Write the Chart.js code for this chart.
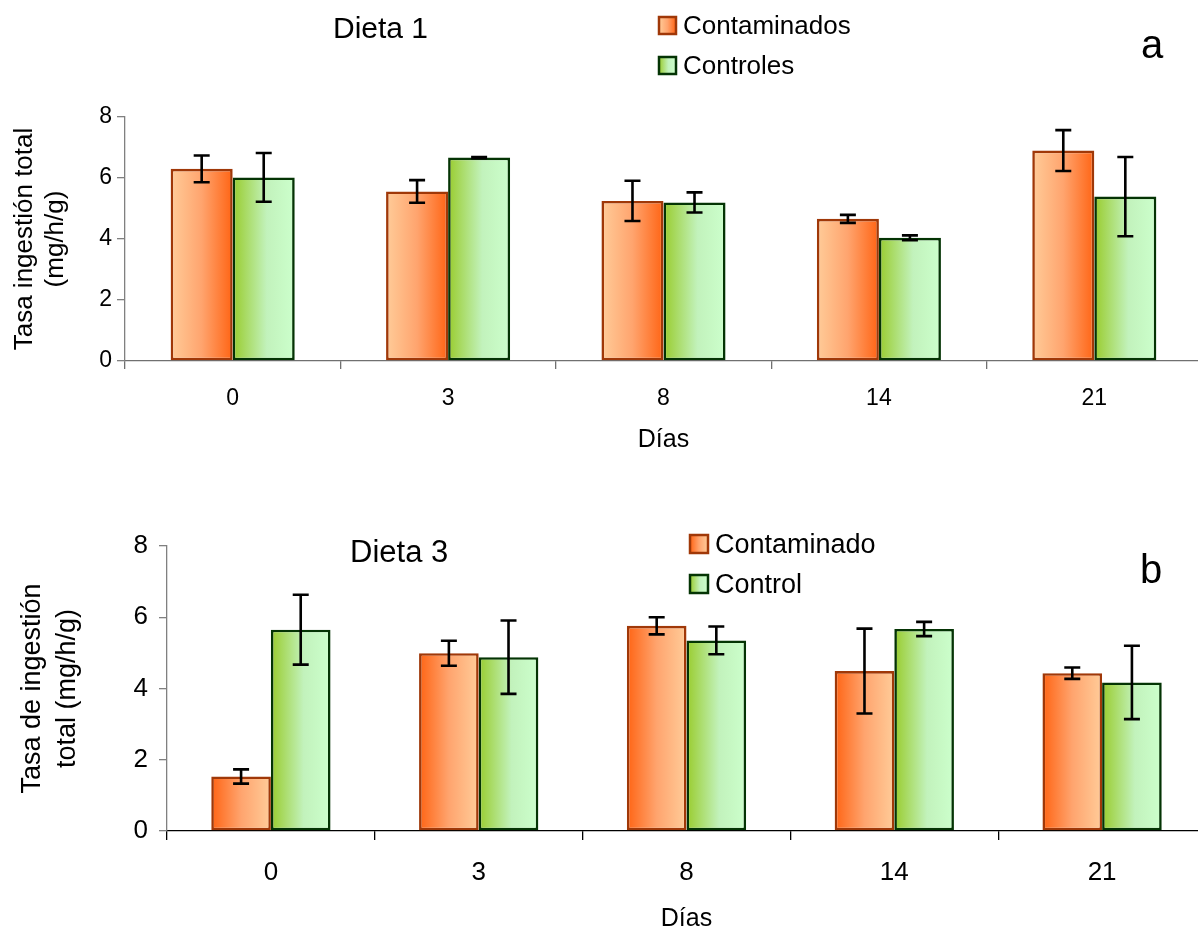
<!DOCTYPE html>
<html><head><meta charset="utf-8">
<script src="https://cdn.jsdelivr.net/npm/chart.js@4.4.0/dist/chart.umd.min.js"></script>
<style>
html,body{margin:0;padding:0;background:#fff;overflow:hidden;width:1198px;height:930px}
canvas{position:absolute;left:0}
#c1{top:0}#c2{top:465px}
</style></head><body>
<canvas id="c1" width="1210" height="465"></canvas>
<canvas id="c2" width="1210" height="480"></canvas>
<script>
// ---- data ----
const days = ['0', '3', '8', '14', '21'];
const yTickStep = 2;
const yMin = 0, yMax = 8;

// Dieta 1
const d1Contaminados = [6.30, 5.56, 5.25, 4.66, 6.90];
const d1ContaminadosErr = [0.44, 0.37, 0.66, 0.13, 0.67];
const d1Controles = [6.02, 6.67, 5.20, 4.04, 5.39];
const d1ControlesErr = [0.80, 0.02, 0.33, 0.08, 1.30];

// Dieta 3
const d3Contaminado = [1.53, 4.99, 5.76, 4.49, 4.43];
const d3ContaminadoErr = [0.20, 0.35, 0.24, 1.19, 0.16];
const d3Control = [5.65, 4.88, 5.35, 5.67, 4.17];
const d3ControlErr = [0.98, 1.03, 0.39, 0.20, 1.03];

// ---- styles ----
const FONT = "'Liberation Sans', Arial, sans-serif";
const ORANGE_LR = [[0, '#FFCC99'], [0.5, '#FFA46E'], [1, '#FF6414']];
const ORANGE_RL = [[0, '#FF6414'], [0.5, '#FFA46E'], [1, '#FFCC99']];
const GREEN = [[0, '#99CC2E'], [0.55, '#C2F2BC'], [1, '#CCFFCC']];
const ORANGE_BORDER = '#A03808';
const GREEN_BORDER = '#043404';

function makeGrad(ctx, x0, x1, stops) {
  const g = ctx.createLinearGradient(x0, 0, x1, 0);
  stops.forEach(s => g.addColorStop(s[0], s[1]));
  return g;
}

const gradientPlugin = {
  id: 'gradBars',
  beforeDatasetsDraw(chart) {
    const ctx = chart.ctx;
    chart.data.datasets.forEach((ds, i) => {
      const meta = chart.getDatasetMeta(i);
      meta.data.forEach(el => {
        const g = makeGrad(ctx, el.x - el.width / 2, el.x + el.width / 2, ds.gradStops);
        el.options = Object.assign({}, el.options, {backgroundColor: g});
      });
    });
  }
};

const errorPlugin = {
  id: 'errBars',
  afterDatasetsDraw(chart) {
    const ctx = chart.ctx, ys = chart.scales.y;
    ctx.save();
    ctx.strokeStyle = '#000';
    ctx.lineWidth = 2.6;
    ctx.lineCap = 'butt';
    chart.data.datasets.forEach((ds, i) => {
      const meta = chart.getDatasetMeta(i);
      meta.data.forEach((el, j) => {
        const v = ds.data[j], e = ds.errors[j];
        const yt = ys.getPixelForValue(v + e), yb = ys.getPixelForValue(v - e);
        const x = el.x, c = 8;
        ctx.beginPath();
        ctx.moveTo(x, yt); ctx.lineTo(x, yb);
        ctx.moveTo(x - c, yt); ctx.lineTo(x + c, yt);
        ctx.moveTo(x - c, yb); ctx.lineTo(x + c, yb);
        ctx.stroke();
      });
    });
    ctx.restore();
  }
};

const decorPlugin = {
  id: 'decor',
  afterDraw(chart, args, opts) {
    const ctx = chart.ctx;
    ctx.save();
    ctx.fillStyle = '#000';
    ctx.textBaseline = 'alphabetic';
    ctx.textAlign = 'left';
    ctx.font = opts.titleSize + 'px ' + FONT;
    ctx.fillText(opts.title, opts.titleX, opts.titleY);
    ctx.font = opts.letterSize + 'px ' + FONT;
    ctx.fillText(opts.letter, opts.letterX, opts.letterY);
    ctx.font = opts.legendSize + 'px ' + FONT;
    chart.data.datasets.forEach((ds, i) => {
      const sy = opts.legendY[i];
      const sx = opts.legendX, s = opts.box;
      ctx.fillStyle = makeGrad(ctx, sx, sx + s, ds.gradStops);
      ctx.fillRect(sx, sy, s, s);
      ctx.strokeStyle = ds.borderColor;
      ctx.lineWidth = 2.5;
      ctx.strokeRect(sx, sy, s, s);
      ctx.fillStyle = '#000';
      ctx.fillText(ds.label, sx + s + 7, sy + s);
    });
    ctx.restore();
  }
};

function makeChart(id, cfg) {
  return new Chart(document.getElementById(id), {
    type: 'bar',
    data: {
      labels: days,
      datasets: cfg.datasets.map(d => Object.assign({
        borderWidth: 2.6,
        borderSkipped: false,
        barPercentage: 1,
        categoryPercentage: cfg.catPct
      }, d))
    },
    plugins: [gradientPlugin, errorPlugin, decorPlugin],
    options: {
      responsive: false,
      animation: false,
      events: [],
      layout: {padding: cfg.padding},
      plugins: {
        legend: {display: false},
        tooltip: {enabled: false},
        decor: cfg.decor
      },
      scales: {
        x: {
          type: 'category',
          grid: {offset: true, drawOnChartArea: false, drawTicks: true, tickLength: cfg.xTickLen, color: cfg.xAxisColor, tickColor: cfg.xAxisColor, lineWidth: 1.3},
          border: {color: cfg.xAxisColor, width: 1.3},
          ticks: {font: {family: FONT, size: cfg.xTickSize}, color: '#000', padding: cfg.xTickPad, maxRotation: 0},
          title: {display: true, text: 'Días', color: '#000', font: {family: FONT, size: cfg.xTitleSize}, padding: {top: 0, bottom: cfg.xTitlePad}},
          afterFit: s => { s.height = cfg.xHeight; }
        },
        y: {
          min: yMin, max: yMax,
          grid: {drawOnChartArea: false, drawTicks: true, tickLength: 8, color: '#808080', tickColor: '#808080', lineWidth: 1.3},
          border: {color: '#808080', width: 1.3},
          ticks: {stepSize: yTickStep, font: {family: FONT, size: cfg.yTickSize}, color: '#000', padding: cfg.yTickPad},
          title: {display: true, text: cfg.yTitle, color: '#000', font: {family: FONT, size: cfg.yTitleSize, lineHeight: cfg.yTitleLH}, padding: {top: cfg.yTitlePad, bottom: 0}},
          afterFit: s => { s.width = cfg.yWidth; }
        }
      }
    }
  });
}

makeChart('c1', {
  datasets: [
    {label: 'Contaminados', data: d1Contaminados, errors: d1ContaminadosErr, gradStops: ORANGE_LR, borderColor: ORANGE_BORDER},
    {label: 'Controles', data: d1Controles, errors: d1ControlesErr, gradStops: GREEN, borderColor: GREEN_BORDER}
  ],
  catPct: 0.576,
  padding: {left: 0, top: 117, right: 8, bottom: 0},
  xHeight: 104, yWidth: 125,
  xAxisColor: '#707070', xTickLen: 8, xTickSize: 23, xTickPad: 16,
  xTitleSize: 25, xTitlePad: 10,
  yTickSize: 23, yTickPad: 5,
  yTitle: ['Tasa ingestión total', '(mg/h/g)'], yTitleSize: 26, yTitleLH: 1.2, yTitlePad: 9,
  decor: {
    title: 'Dieta 1', titleSize: 30, titleX: 333, titleY: 38,
    letter: 'a', letterSize: 40, letterX: 1141, letterY: 58,
    legendSize: 26, legendX: 659, legendY: [17, 57], box: 17
  }
});

makeChart('c2', {
  datasets: [
    {label: 'Contaminado', data: d3Contaminado, errors: d3ContaminadoErr, gradStops: ORANGE_RL, borderColor: ORANGE_BORDER},
    {label: 'Control', data: d3Control, errors: d3ControlErr, gradStops: GREEN, borderColor: GREEN_BORDER}
  ],
  catPct: 0.574,
  padding: {left: 0, top: 81, right: 4, bottom: 0},
  xHeight: 114, yWidth: 167,
  xAxisColor: '#000000', xTickLen: 9, xTickSize: 26, xTickPad: 17,
  xTitleSize: 25, xTitlePad: 11,
  yTickSize: 26, yTickPad: 11,
  yTitle: ['Tasa de ingestión', 'total (mg/h/g)'], yTitleSize: 27, yTitleLH: 1.3, yTitlePad: 15,
  decor: {
    title: 'Dieta 3', titleSize: 31, titleX: 350, titleY: 97,
    letter: 'b', letterSize: 40, letterX: 1140, letterY: 118,
    legendSize: 27, legendX: 690, legendY: [70, 110], box: 18
  }
});
</script>
</body></html>
